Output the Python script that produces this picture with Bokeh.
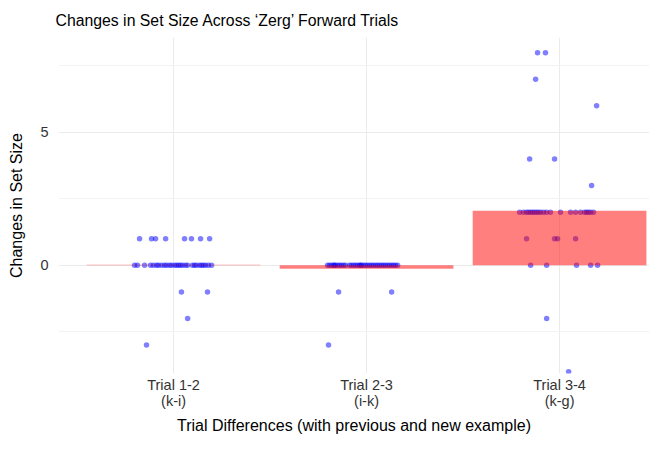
import numpy as np
from bokeh.plotting import figure
from bokeh.models import FixedTicker
from bokeh.embed import file_html
from bokeh.resources import INLINE

# ---- data ----
categories = ["Trial 1-2\n(k-i)", "Trial 2-3\n(i-k)", "Trial 3-4\n(k-g)"]
cat_pos = [1, 2, 3]

g1_values = [1] * 8 + [-1, -1, -2, -3] + [0] * 28
g1_jitter = [-0.176, -0.114, -0.093, -0.041, 0.057, 0.093, 0.140, 0.187,
             0.041, 0.176, 0.073, -0.140,
             -0.202, -0.187, -0.150, -0.119, -0.104, -0.088, -0.078, -0.062,
             -0.047, -0.036, -0.021, -0.010, 0.005, 0.016, 0.026, 0.036,
             0.047, 0.062, 0.073, 0.098, 0.109, 0.119, 0.135, 0.145,
             0.155, 0.166, 0.181, 0.197]

g2_values = [-1, -1, -3] + [0] * 37
g2_jitter = [-0.145, 0.130, -0.197,
             -0.202, -0.192, -0.181, -0.171, -0.166, -0.161, -0.150, -0.140,
             -0.130, -0.119, -0.109, -0.088, -0.078, -0.067, -0.057, -0.047,
             -0.036, -0.031, -0.026, -0.016, -0.005, 0.005, 0.016, 0.026,
             0.036, 0.047, 0.057, 0.067, 0.078, 0.088, 0.098, 0.109,
             0.119, 0.130, 0.140, 0.150, 0.161]

g3_values = [8, 8, 7, 6, 4, 4, 3] + [2] * 22 + [1] * 4 + [0] * 5 + [-2, -4]
g3_jitter = [-0.114, -0.073, -0.124, 0.192, -0.155, -0.026, 0.166,
             -0.207, -0.187, -0.171, -0.161, -0.150, -0.140, -0.130, -0.119,
             -0.109, -0.098, -0.083, -0.067, -0.047, 0.005, 0.057, 0.083,
             0.109, 0.130, 0.140, 0.150, 0.161, 0.176,
             -0.171, -0.026, -0.010, 0.083,
             -0.150, -0.067, 0.088, 0.161, 0.197,
             -0.067, 0.047]

y_ticks = [0, 5]
y_minor = [-2.5, 2.5, 7.5]

title = "Changes in Set Size Across \u2018Zerg\u2019 Forward Trials"
x_title = "Trial Differences (with previous and new example)"
y_title = "Changes in Set Size"

# ---- build ----
groups = [(g1_values, g1_jitter), (g2_values, g2_jitter), (g3_values, g3_jitter)]
px, py = [], []
means = []
for pos, (vals, jit) in zip(cat_pos, groups):
    for v, j in zip(vals, jit):
        px.append(pos + j)
        py.append(v)
    means.append(float(np.mean(vals)))

FONT = "Liberation Sans"

p = figure(width=649, height=436, output_backend="svg", toolbar_location=None,
           x_range=(0.404, 3.466), y_range=(-4.07, 8.57),
           min_border_left=58, min_border_right=0, min_border_top=10,
           min_border_bottom=10, border_fill_color="white")
p.outline_line_color = None
p.background_fill_color = "white"

p.title.text = title
p.title.text_font = FONT
p.title.text_font_size = "15.8px"
p.title.text_font_style = "normal"
p.title.text_color = "black"
p.title.offset = -3
p.title.standoff = 9
try:
    p.title.padding = (0, 0, 5, 4)
except Exception:
    pass

p.scatter(px, py, size=5.5, fill_color="#0000ff", fill_alpha=0.5, line_color=None)
p.vbar(x=cat_pos, width=0.9, bottom=0, top=means, fill_color="#ff0000",
       fill_alpha=0.5, line_color=None)

p.xaxis.ticker = FixedTicker(ticks=cat_pos)
p.xaxis.major_label_overrides = {k: lab for k, lab in zip(cat_pos, categories)}
p.yaxis.ticker = FixedTicker(ticks=y_ticks, minor_ticks=y_minor)
for ax in (p.xaxis, p.yaxis):
    ax.axis_line_color = None
    ax.major_tick_line_color = None
    ax.minor_tick_line_color = None
    ax.major_tick_out = 0
    ax.major_tick_in = 0
    ax.minor_tick_out = 0
    ax.minor_tick_in = 0
    ax.major_label_text_font = FONT
    ax.major_label_text_font_size = "14.5px"
    ax.major_label_text_color = "#333333"
    ax.major_label_text_line_height = 1.0
    ax.axis_label_text_font = FONT
    ax.axis_label_text_font_size = "16px"
    ax.axis_label_text_font_style = "normal"
    ax.axis_label_text_color = "black"
p.xaxis.axis_label = x_title
p.yaxis.axis_label = y_title
p.xaxis.major_label_standoff = 3
p.yaxis.major_label_standoff = 10
p.xaxis.axis_label_standoff = 5
p.yaxis.axis_label_standoff = 12

p.xgrid.ticker = FixedTicker(ticks=cat_pos)
p.xgrid.grid_line_color = "#ebebeb"
p.ygrid.grid_line_color = "#ebebeb"
p.ygrid.minor_grid_line_color = "#f3f3f3"
p.ygrid.minor_grid_line_width = 1

open("out.html", "w").write(file_html(p, INLINE))
